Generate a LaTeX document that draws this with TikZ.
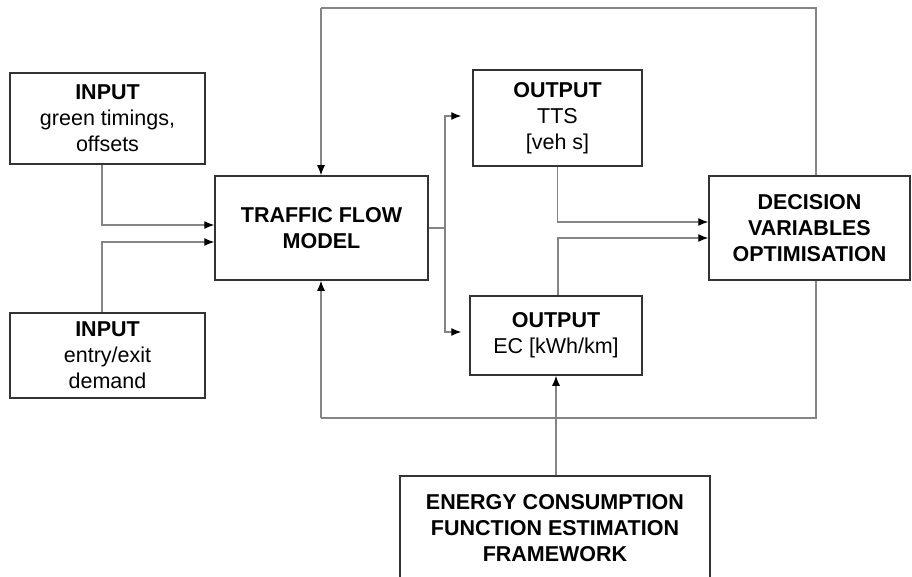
\documentclass[tikz,border=0pt]{standalone}
\usepackage{fontspec}
\setmainfont{Liberation Sans}
\usetikzlibrary{arrows.meta,calc}
\definecolor{boxline}{HTML}{333333}
\definecolor{connline}{HTML}{858585}
\begin{document}
\begin{tikzpicture}[x=1pt,y=-1pt,
  box/.style={draw=boxline,line width=1.5pt,inner sep=0pt,align=center,
    font=\fontsize{21.5}{25.8}\selectfont},
  conn/.style={draw=connline,line width=1.2pt},
  arr/.style={conn,-{Latex[length=10pt,width=8pt,color=black]}}]
\useasboundingbox (0,0) rectangle (912,577);
\node[box,minimum width=195pt,minimum height=91pt] (in1) at (107.5,118.5)
  {\textbf{INPUT}\\green timings,\\offsets};
\node[box,minimum width=195pt,minimum height=85pt] (in2) at (107.5,355.5)
  {\textbf{INPUT}\\entry/exit\\demand};
\node[box,minimum width=213pt,minimum height=104pt] (tf) at (321.5,228)
  {\textbf{TRAFFIC FLOW}\\\textbf{MODEL}};
\node[box,minimum width=169pt,minimum height=96pt] (tts) at (557.5,118)
  {\textbf{OUTPUT}\\TTS\\{[}veh s{]}};
\node[box,minimum width=172pt,minimum height=79pt] (ec) at (556,335.5)
  {\textbf{OUTPUT}\\EC [kWh/km]};
\node[box,minimum width=201pt,minimum height=104pt] (dv) at (809.5,228)
  {\textbf{DECISION}\\\textbf{VARIABLES}\\\textbf{OPTIMISATION}};
\node[box,minimum width=310pt,minimum height=104pt] (ecf) at (555,528)
  {\textbf{ENERGY CONSUMPTION}\\\textbf{FUNCTION ESTIMATION}\\\textbf{FRAMEWORK}};
% coordinates
\coordinate (topR) at (816,8);
\coordinate (topL) at (321,8);
\coordinate (botR) at (816,418);
\coordinate (botL) at (321,418);
\coordinate (split) at (445,228);
% inputs
\draw[arr] ([xshift=-5.5pt]in1.south) |- ([yshift=3pt]tf.west);
\draw[arr] ([xshift=-5.5pt]in2.north) |- ([yshift=-14pt]tf.west);
% outputs split
\draw[conn] (tf.east) -- (split);
\draw[arr] (split) |- ([xshift=-11pt,yshift=2pt]tts.west);
\draw[arr] (split) |- ([xshift=-8pt,yshift=3.5pt]ec.west);
% to decision
\draw[arr] (tts.south) |- ([yshift=6pt]dv.west);
\draw[arr] ([xshift=2pt]ec.north) |- ([yshift=-10pt]dv.west);
% feedback
\draw[conn] ([xshift=6.5pt]dv.north) -- (topR) -- (topL);
\draw[arr] (topL) -- (topL |- tf.north);
\draw[conn] ([xshift=6.5pt]dv.south) -- (botR) -- (botL);
\draw[arr] (botL) -- (botL |- tf.south);
% ecf
\draw[arr] ([xshift=1pt]ecf.north) -- ([xshift=1pt]ecf.north |- ec.south);
\end{tikzpicture}
\end{document}
